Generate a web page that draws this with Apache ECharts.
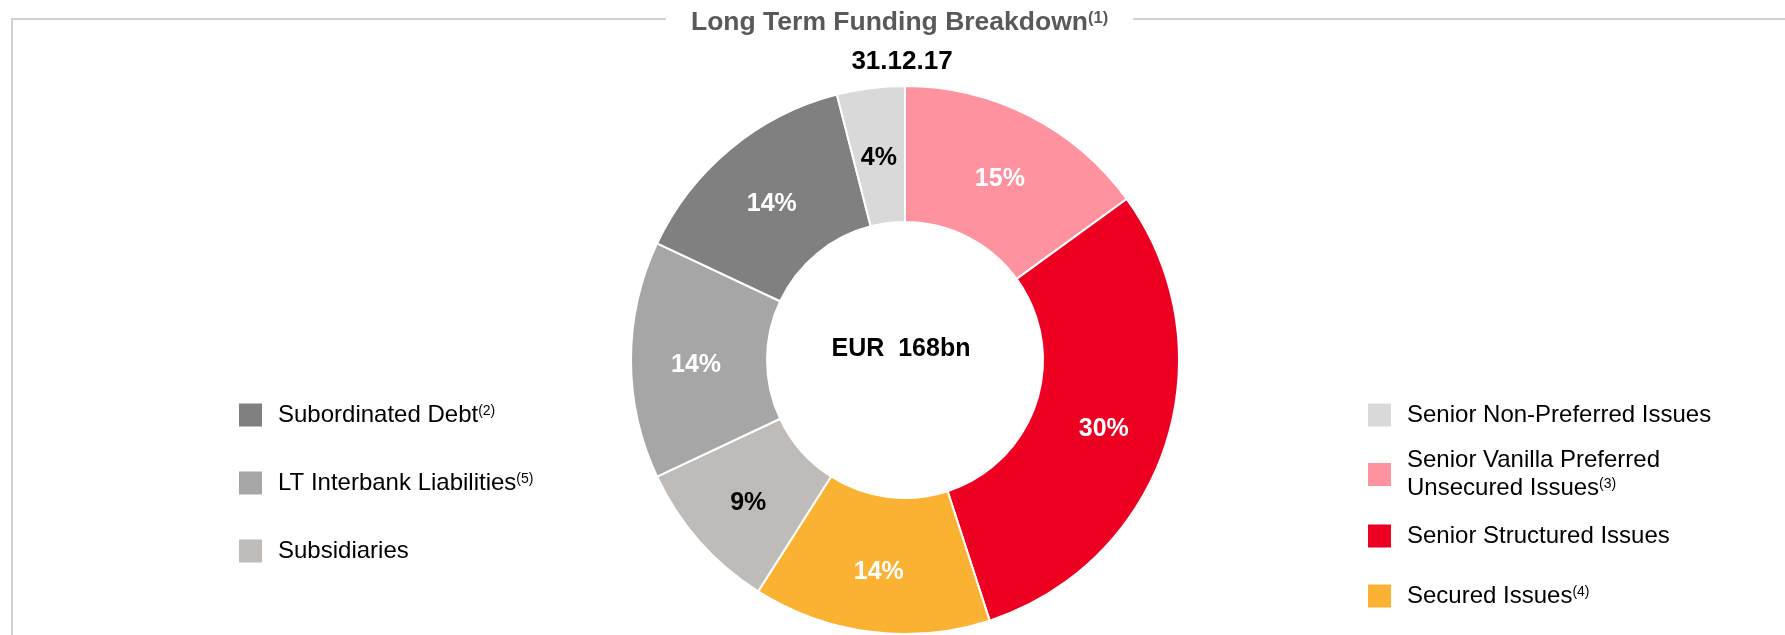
<!DOCTYPE html>
<html>
<head>
<meta charset="utf-8">
<script src="https://cdn.jsdelivr.net/npm/echarts@6/dist/echarts.min.js"></script>
<style>
  html, body { margin: 0; padding: 0; background: #fff; }
  #chart { width: 1785px; height: 635px; }
</style>
</head>
<body>
<div id="chart"></div>
<script>
// ---- data ----
const titleText = 'Long Term Funding Breakdown';
const titleNote = '(1)';
const dateLabel = '31.12.17';
const totalLabel = 'EUR  168bn';

// slices, clockwise from 12 o'clock (share of total, %)
const categories = [
  'Senior Vanilla Preferred Unsecured Issues',
  'Senior Structured Issues',
  'Secured Issues',
  'Subsidiaries',
  'LT Interbank Liabilities',
  'Subordinated Debt',
  'Senior Non-Preferred Issues'
];
const shares = [15, 30, 14, 9, 14, 14, 4];

// footnote markers shown after legend names
const footnotes = {
  'Senior Vanilla Preferred Unsecured Issues': '(3)',
  'Secured Issues': '(4)',
  'LT Interbank Liabilities': '(5)',
  'Subordinated Debt': '(2)'
};
// legend names printed on two lines
const wrappedNames = {
  'Senior Vanilla Preferred Unsecured Issues': ['Senior Vanilla Preferred', 'Unsecured Issues']
};

const leftLegendNames = ['Subordinated Debt', 'LT Interbank Liabilities', 'Subsidiaries'];
const rightLegendNames = ['Senior Non-Preferred Issues', 'Senior Vanilla Preferred Unsecured Issues',
  'Senior Structured Issues', 'Secured Issues'];

// ---- styling ----
const sliceColors = ['#FF929F', '#EE0022', '#FBB131', '#BFBBB9', '#A6A6A6', '#808080', '#D9D9D9'];
const darkLabelSlices = ['Subsidiaries', 'Senior Non-Preferred Issues'];
const FONT = '"Liberation Sans", Arial, Helvetica, sans-serif';

// legend layout: left column x, right column x, top of each swatch
const LEFT_X = 239, RIGHT_X = 1368;
const leftTops = [403, 471, 539];
const rightTops = [403, 463, 524, 584];

function legendText(name) {
  const note = footnotes[name] ? '{sup|' + footnotes[name] + '}' : '';
  const lines = wrappedNames[name];
  if (lines) {
    return lines.map((l, i) => '{two|' + l + '}' + (i === lines.length - 1 ? note : '')).join('\n');
  }
  return '{one|' + name + '}' + note;
}

const legendRich = {
  one: { fontSize: 24, lineHeight: 22, color: '#000', fontFamily: FONT },
  two: { fontSize: 24, lineHeight: 28, color: '#000', fontFamily: FONT },
  sup: { fontSize: 14, lineHeight: 22, color: '#000', fontFamily: FONT, padding: [0, 0, 8, 0] }
};

function legendItem(name, left, top) {
  // a two-line label reaches above its swatch by half of the extra text height
  const lift = wrappedNames[name] ? (56 - 23) / 2 : 0;
  return {
    orient: 'vertical',
    left: left,
    top: top - lift,
    padding: 0,
    itemWidth: 23,
    itemHeight: 23,
    icon: 'rect',
    selectedMode: false,
    itemStyle: { borderWidth: 0 },
    data: [name],
    formatter: legendText,
    textStyle: { color: '#000', fontSize: 24, lineHeight: 22, fontFamily: FONT,
                 padding: [0, 0, 0, 11], rich: legendRich }
  };
}

const legends = [
  ...leftLegendNames.map((n, i) => legendItem(n, LEFT_X, leftTops[i])),
  ...rightLegendNames.map((n, i) => legendItem(n, RIGHT_X, rightTops[i]))
];

const chart = echarts.init(document.getElementById('chart'), null, { renderer: 'canvas' });

chart.setOption({
  backgroundColor: '#fff',
  animation: false,
  title: {
    text: titleText + '{sup|' + titleNote + '}',
    left: 666,
    top: 6,
    padding: [2, 25],
    backgroundColor: '#fff',
    z: 10,
    textStyle: {
      color: '#595959', fontSize: 26.5, fontWeight: 'bold', fontFamily: FONT, lineHeight: 30,
      rich: { sup: { color: '#595959', fontSize: 16.5, fontFamily: FONT, padding: [0, 0, 10, 0] } }
    }
  },
  legend: legends,
  graphic: [
    {
      type: 'polyline', silent: true, z: -1,
      shape: { points: [[12, 635], [12, 19], [1785, 19]] },
      style: { stroke: '#D0D0D0', lineWidth: 2, fill: null }
    },
    {
      type: 'text', x: 902, y: 62, silent: true,
      style: { text: dateLabel, fill: '#000', fontSize: 26, fontWeight: 'bold', fontFamily: FONT,
               align: 'center', verticalAlign: 'middle' }
    },
    {
      type: 'text', x: 901, y: 349, silent: true,
      style: { text: totalLabel, fill: '#000', fontSize: 25, fontWeight: 'bold', fontFamily: FONT,
               align: 'center', verticalAlign: 'middle' }
    }
  ],
  series: [{
    type: 'pie',
    center: [905, 360],
    radius: [138, 274],
    startAngle: 90,
    clockwise: true,
    avoidLabelOverlap: false,
    itemStyle: { borderColor: '#fff', borderWidth: 2 },
    label: {
      show: true, position: 'inside', formatter: '{c}%', offset: [0, 5],
      fontSize: 25, fontWeight: 'bold', fontFamily: FONT, color: '#fff'
    },
    labelLine: { show: false },
    emphasis: { disabled: true },
    data: categories.map((name, i) => ({
      name: name,
      value: shares[i],
      itemStyle: { color: sliceColors[i] },
      label: { color: darkLabelSlices.includes(name) ? '#000' : '#fff' }
    }))
  }]
});
</script>
</body>
</html>
